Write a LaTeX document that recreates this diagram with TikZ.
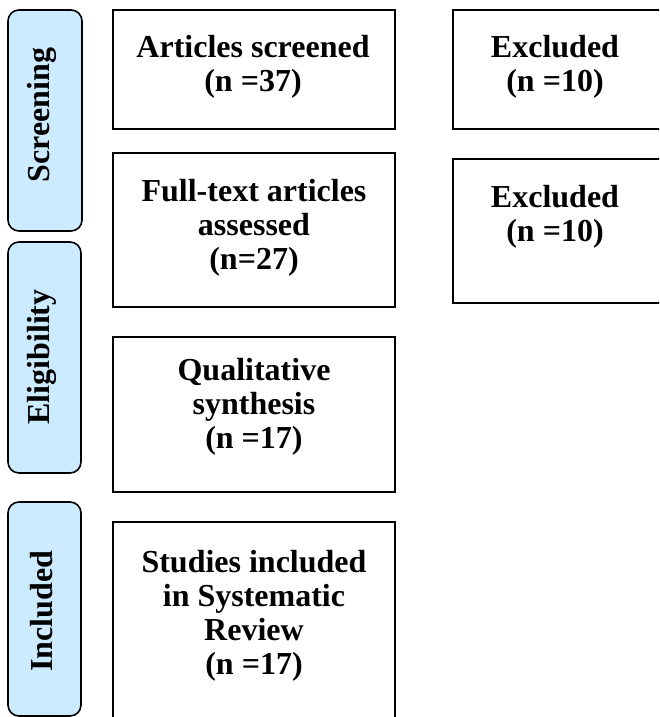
\documentclass[tikz,border=0pt]{standalone}
\usepackage{fontspec}
\setmainfont{Liberation Serif}
\definecolor{sideblue}{RGB}{204,235,255}
\begin{document}
\begin{tikzpicture}[x=1pt,y=-1pt,
  box/.style={draw=black, line width=1.9pt, inner sep=0pt, outer sep=0pt},
  side/.style={draw=black, line width=1.6pt, fill=sideblue, rounded corners=11pt, inner sep=0pt, outer sep=0pt},
  txt/.style={font=\fontsize{32}{34}\selectfont\bfseries, align=center, inner sep=0pt},
  vtxt/.style={txt, rotate=90}]
\useasboundingbox (0,0) rectangle (659,717);
\clip (0,0) rectangle (659,717);
% side phase boxes
\node[side, minimum width=74pt, minimum height=221pt] (s1) at (45,120.5) {};
\node[side, minimum width=73pt, minimum height=231pt] (s2) at (44.5,357.5) {};
\node[side, minimum width=73pt, minimum height=214pt] (s3) at (44.5,609) {};
\node[vtxt] (ls1) at (42,115) {Screening};
\node[vtxt] (ls2) at (42,357) {Eligibility};
\node[vtxt] (ls3) at (42,611) {Included};
% main boxes
\node[box, minimum width=282pt, minimum height=119pt] (b1) at (254,69.5) {};
\node[box, minimum width=282pt, minimum height=154pt] (b2) at (254,230) {};
\node[box, minimum width=282pt, minimum height=155pt] (b3) at (254,414.5) {};
\node[box, minimum width=282pt, minimum height=238pt] (b4) at (254,641) {};
\node[box, minimum width=217pt, minimum height=119pt] (e1) at (561.5,69.5) {};
\node[box, minimum width=217pt, minimum height=144pt] (e2) at (561.5,231) {};
% texts
\node[txt] (t1) at (253,66.5) {Articles screened\\(n =37)};
\node[txt] (t2) at (254,228) {Full-text articles\\assessed\\(n=27)};
\node[txt] (t3) at (254,407) {Qualitative\\synthesis\\(n =17)};
\node[txt] (t4) at (254,616) {Studies included\\in Systematic\\Review\\(n =17)};
\node[txt] (te1) at (555,67) {Excluded\\(n =10)};
\node[txt] (te2) at (555,217) {Excluded\\(n =10)};
\end{tikzpicture}
\end{document}
